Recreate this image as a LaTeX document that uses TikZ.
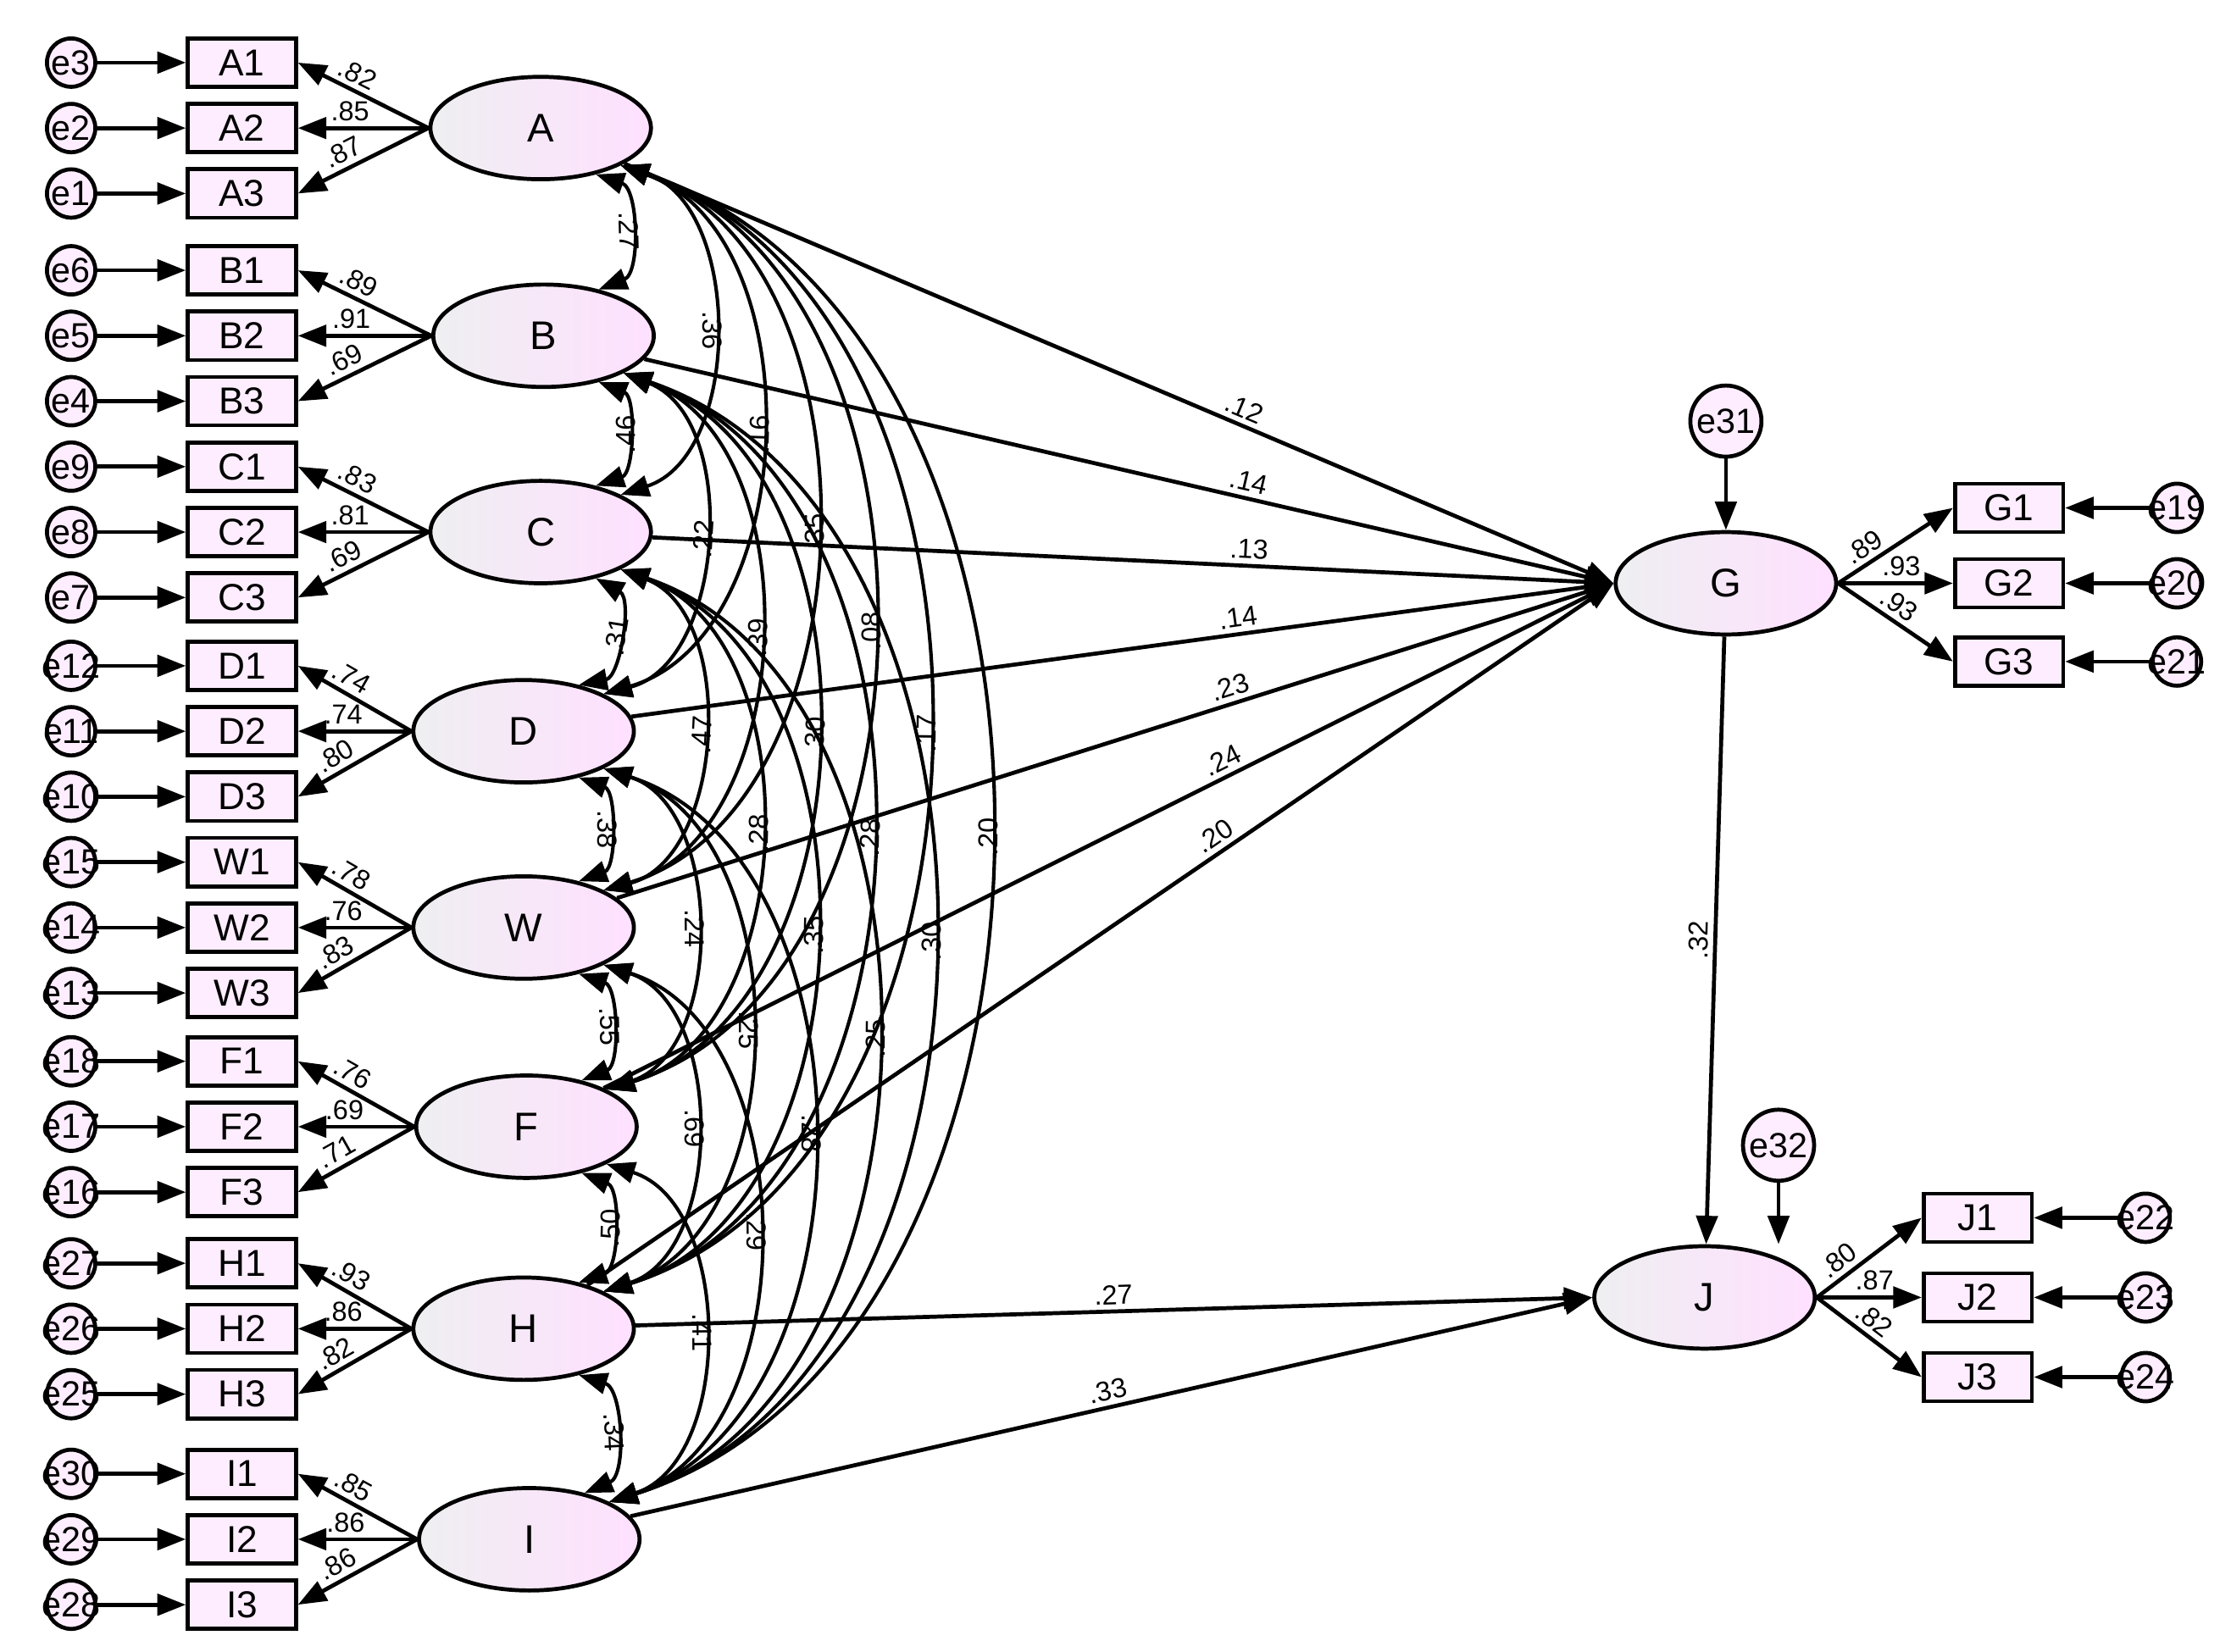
\documentclass[tikz,border=0pt]{standalone}
\usepackage{fontspec}
\setmainfont{Liberation Sans}
\usetikzlibrary{arrows.meta,shapes.geometric}
\begin{document}
\begin{tikzpicture}[x=0.1mm,y=-0.1mm,
 lat/.style={ellipse,draw,line width=0.8pt,minimum width=15.5mm,minimum height=7.2mm,left color=blue!8!gray!12,right color=magenta!12,font=\fontsize{8}{9}\selectfont},
 box/.style={rectangle,draw,line width=0.8pt,minimum width=7.6mm,minimum height=3.4mm,inner sep=0pt,fill=blue!6!magenta!7,font=\fontsize{7.5}{8}\selectfont},
 err/.style={circle,draw,line width=0.8pt,minimum size=3.4mm,inner sep=-2pt,fill=blue!6!magenta!7,font=\fontsize{7}{8}\selectfont},
 berr/.style={err,minimum size=5mm},
 arr/.style={-{Triangle[length=2mm,width=1.5mm]},line width=0.8pt},
 cor/.style={{Triangle[length=2mm,width=1.5mm]}-{Triangle[length=2mm,width=1.5mm]},line width=0.7pt},
 lab/.style={font=\fontsize{5.5}{6}\selectfont,inner sep=1pt}]
\useasboundingbox (0,0) rectangle (1568,1161);
\foreach \L/\x/\y/\la/\lb/\lc/\ea/\eb/\ec in {
 A/380/90/.82/.85/.87/e3/e2/e1,
 B/382/236/.89/.91/.69/e6/e5/e4,
 C/380/374/.83/.81/.69/e9/e8/e7,
 D/368/514/.74/.74/.80/e12/e11/e10,
 W/368/652/.78/.76/.83/e15/e14/e13,
 F/370/792/.76/.69/.71/e18/e17/e16,
 H/368/934/.93/.86/.82/e27/e26/e25,
 I/372/1082/.85/.86/.86/e30/e29/e28}{
 \node[lat] (\L) at (\x,\y) {\L};
 \node[box] (\L1) at (170,\y-46) {\L1};
 \node[box] (\L2) at (170,\y) {\L2};
 \node[box] (\L3) at (170,\y+46) {\L3};
 \node[err] (\ea) at (50,\y-46) {\ea};
 \node[err] (\eb) at (50,\y) {\eb};
 \node[err] (\ec) at (50,\y+46) {\ec};
 \draw[arr] (\ea) -- (\L1);
 \draw[arr] (\eb) -- (\L2);
 \draw[arr] (\ec) -- (\L3);
 \draw[arr] (\L.west) -- node[lab,pos=0.6,above,sloped]{\la} (\L1.east);
 \draw[arr] (\L.west) -- node[lab,pos=0.6,above]{\lb} (\L2.east);
 \draw[arr] (\L.west) -- node[lab,pos=0.6,above,sloped]{\lc} (\L3.east);
}
\node[lat] (G) at (1213,410) {G};
\node[lat] (J) at (1198,912) {J};
\node[berr] (e31) at (1213,296) {e31};
\node[berr] (e32) at (1250,805) {e32};
\draw[arr] (e31) -- (G);
\draw[arr] (e32) -- (e32|-J.north);
\foreach \n/\y/\e/\l/\s/\p in {1/357/e19/.89/sloped/0.3,2/410/e20/.93//0.55,3/465/e21/.93/sloped/0.45}{
 \node[box] (G\n) at (1412,\y) {G\n};
 \node[err] (\e) at (1530,\y) {\e};
 \draw[arr] (\e) -- (G\n);
 \draw[arr] (G.east) -- node[lab,pos=\p,above,\s]{\l} (G\n.west);
}
\foreach \n/\y/\e/\l/\s/\p in {1/856/e22/.80/sloped/0.3,2/912/e23/.87//0.55,3/968/e24/.82/sloped/0.45}{
 \node[box] (J\n) at (1390,\y) {J\n};
 \node[err] (\e) at (1508,\y) {\e};
 \draw[arr] (\e) -- (J\n);
 \draw[arr] (J.east) -- node[lab,pos=\p,above,\s]{\l} (J\n.west);
}
\foreach \s/\l in {A/.12,B/.14,C/.13,D/.14,W/.23,F/.24,H/.20}{
 \draw[arr] (\s) -- node[lab,pos=0.62,above,sloped]{\l} (G.west);
}
\draw[arr] (G) -- node[lab,pos=0.5,above,sloped]{.32} (J);
\draw[arr] (H) -- node[lab,pos=0.5,above,sloped]{.27} (J.west);
\draw[arr] (I) -- node[lab,pos=0.5,above,sloped]{.33} (J.west);
\foreach \a/\b/\l in {A/B/.27,B/C/.46,C/D/.31,D/W/.38,W/F/.55,F/H/.50,H/I/.34}{
 \draw[cor] (\a.-40) to[bend left=70] node[lab,pos=0.5,sloped]{\l} (\b.40);
}
\foreach \a/\b/\l in {
 A/C/.36,A/D/.16,A/W/.35,A/F/.08,A/H/.17,A/I/.20,
 B/D/.22,B/W/.39,B/F/.30,B/H/.28,B/I/.30,
 C/W/.47,C/F/.28,C/H/.35,C/I/.25,
 D/F/.24,D/H/.25,D/I/.28,
 W/H/.69,W/I/.29,F/I/.41}{
 \draw[cor] (\a.-25) to[bend left=72] node[lab,pos=0.5,sloped]{\l} (\b.25);
}
\end{tikzpicture}
\end{document}
